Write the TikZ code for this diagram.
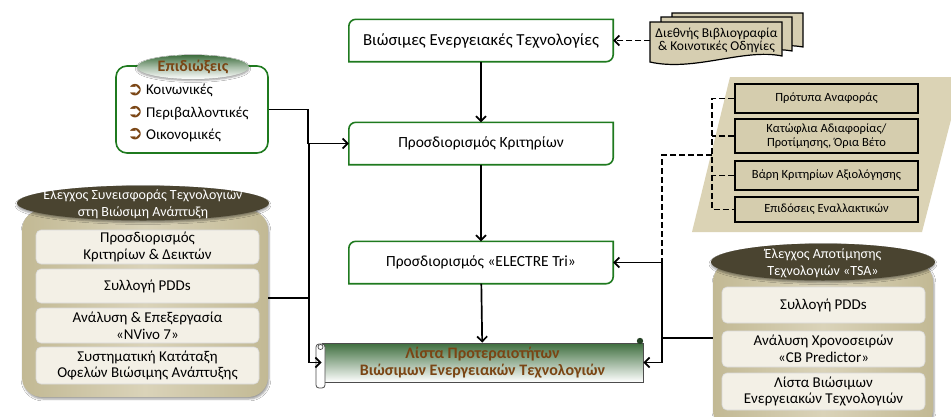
\documentclass[tikz,border=0pt]{standalone}
\usepackage{fontspec}
\setmainfont{Carlito}
\newfontfamily\symfont{DejaVu Sans}
\usetikzlibrary{shapes.geometric,arrows.meta,shadows.blur}

\definecolor{boxgreen}{HTML}{1F7A1F}
\definecolor{hdrgreen}{HTML}{3E6E3E}
\definecolor{browntxt}{HTML}{7A4514}
\definecolor{olive}{HTML}{4A4430}
\definecolor{tanD}{HTML}{C2B994}
\definecolor{tanL}{HTML}{DAD3B9}
\definecolor{cream}{HTML}{F3F0E6}
\definecolor{paratan}{HTML}{DBD3B5}
\definecolor{innertan}{HTML}{D5CDAE}
\definecolor{doctan}{HTML}{D6CEB1}

\tikzset{
  conn/.style={line width=1.7pt, black},
  arr/.style={conn, -{Straight Barb[length=5pt,width=10pt]}},
  dashconn/.style={line width=1.7pt, black, dash pattern=on 6pt off 3pt},
  procbox/.style={minimum width=264pt, minimum height=42pt, inner sep=0pt,
    font=\fontsize{15.5}{17}\selectfont},
  procline/.style={draw=boxgreen, line width=1.6pt},
  container/.style={rounded corners=20pt, left color=tanD, right color=tanD,
    middle color=tanL, blur shadow={shadow xshift=1pt, shadow yshift=-2pt}},
  hdrell/.style={ellipse, fill=olive, inner sep=0pt,
    blur shadow={shadow xshift=0pt, shadow yshift=-2pt}},
  hdrtxt/.style={align=center, text=white, yshift=-1.5pt, font=\fontsize{14}{16.7}\selectfont},
  itembox/.style={fill=cream, draw=black!15, line width=0.6pt, rounded corners=5pt,
    inner sep=0pt, align=center, font=\fontsize{15}{16.7}\selectfont},
  parabox/.style={fill=innertan, draw=black, line width=1.2pt, minimum width=183pt,
    inner sep=0pt, align=center, font=\fontsize{12.5}{13.3}\selectfont},
  docshape/.style={fill=doctan, draw=black, line width=1.2pt},
  epiditem/.style={anchor=west, inner sep=0pt, font=\fontsize{15}{16}\selectfont},
}

\newcommand{\bul}{\raisebox{-0.5pt}{\symfont\bfseries\fontsize{19}{14}\selectfont\color{browntxt}➲}\hspace{3pt}}

\begin{document}
\begin{tikzpicture}[x=1pt, y=-1pt]
\useasboundingbox[fill=white] (0,0) rectangle (951,416);

% ---------- backdrop for the ELECTRE Tri parameters ----------
\fill[paratan] (730,77) -- (962,77) -- (922,232) -- (692,232) -- cycle;

% ---------- central process chain ----------
\node[procbox, font=\fontsize{16.8}{17}\selectfont] (b1) at (481,40.5) {Βιώσιμες Ενεργειακές Τεχνολογίες};
\node[procbox] (b2) at (481,143.5) {Προσδιορισμός Κριτηρίων};
\node[procbox] (b3) at (481,262.5) {Προσδιορισμός «ELECTRE Tri»};
\foreach \n in {b1,b2,b3}
  \draw[procline] (\n.west) [rounded corners=7pt] |- (\n.north) [sharp corners] -| (\n.east)
    [rounded corners=7pt] |- (\n.south) [sharp corners] -| (\n.west);

% ---------- result scroll ----------
\node[minimum width=321pt, minimum height=39pt, inner sep=0pt,
      top color=hdrgreen, bottom color=white, draw=black!70, line width=0.8pt,
      align=center, text=browntxt, font=\bfseries\fontsize{16}{16.7}\selectfont]
      (list) at (482.5,362.5) {Λίστα Προτεραιοτήτων\\Βιώσιμων Ενεργειακών Τεχνολογιών};
\draw[fill=white, draw=black!70, line width=0.8pt, rounded corners=3pt] (316,344) rectangle (325,388);
\draw[black!70, line width=0.7pt] (320.5,347) circle (2.5pt);
\fill[hdrgreen!60!black] (640,341) circle (3.2pt);

% ---------- objectives ----------
\node[draw=boxgreen, line width=1.6pt, rounded corners=11pt, minimum width=152pt,
      minimum height=87pt] (epid) at (192,109.5) {};
\node[ellipse, minimum width=112pt, minimum height=24pt, inner sep=0pt,
      top color=hdrgreen, bottom color=white, middle color=hdrgreen!45,
      blur shadow={shadow xshift=0pt, shadow yshift=-1.5pt}] (epidh) at (193,67) {};
\node[text=browntxt, font=\bfseries\fontsize{16}{17}\selectfont] (epidt) at (epidh) {Επιδιώξεις};
\node[epiditem] (e1) at (127,90.5) {\bul Κοινωνικές};
\node[epiditem] (e2) at (127,113) {\bul Περιβαλλοντικές};
\node[epiditem] (e3) at (127,135) {\bul Οικονομικές};

% ---------- sustainable development contribution check ----------
\node[container, minimum width=246pt, minimum height=187pt] (lc) at (145,303.5) {};
\node[hdrell, minimum width=252pt, minimum height=35pt] (lch) at (143,203) {};
\node[hdrtxt] (lct) at (lch) {Έλεγχος Συνεισφοράς Τεχνολογιών\\στη Βιώσιμη Ανάπτυξη};
\node[itembox, minimum width=223pt, minimum height=34pt] (l1) at (147.5,247) {Προσδιορισμός\\Κριτηρίων \& Δεικτών};
\node[itembox, minimum width=223pt, minimum height=34pt] (l2) at (147.5,286) {Συλλογή PDDs};
\node[itembox, minimum width=223pt, minimum height=35pt] (l3) at (147.5,325.5) {Ανάλυση \& Επεξεργασία\\«NVivo 7»};
\node[itembox, minimum width=223pt, minimum height=37pt] (l4) at (147.5,365.5) {Συστηματική Κατάταξη\\Οφελών Βιώσιμης Ανάπτυξης};

% ---------- TSA check ----------
\node[container, minimum width=220pt, minimum height=168pt] (rc) at (823,346) {};
\node[hdrell, minimum width=224pt, minimum height=37pt] (rch) at (823,262) {};
\node[hdrtxt] (rct) at (rch) {Έλεγχος Αποτίμησης\\Τεχνολογιών «TSA»};
\node[itembox, minimum width=203pt, minimum height=36pt] (r1) at (823.5,305) {Συλλογή PDDs};
\node[itembox, minimum width=203pt, minimum height=36pt] (r2) at (823.5,349) {Ανάλυση Χρονοσειρών\\«CB Predictor»};
\node[itembox, minimum width=203pt, minimum height=37pt] (r3) at (823.5,391.5) {Λίστα Βιώσιμων\\Ενεργειακών Τεχνολογιών};

% ---------- ELECTRE Tri parameters ----------
\node[parabox, minimum height=29pt] (p1) at (826.5,98.5) {Πρότυπα Αναφοράς};
\node[parabox, minimum height=34pt] (p2) at (826.5,136) {Κατώφλια Αδιαφορίας/\\Προτίμησης, Όρια Βέτο};
\node[parabox, minimum height=29pt] (p3) at (826.5,175.5) {Βάρη Κριτηρίων Αξιολόγησης};
\node[parabox, minimum height=25pt] (p4) at (826.5,209.5) {Επιδόσεις Εναλλακτικών};

% ---------- literature stack ----------
\draw[docshape] (672,13) -- (803,13) -- (803,47) .. controls (765,40) and (715,62) .. (672,53) -- cycle;
\draw[docshape] (661,17) -- (792,17) -- (792,51) .. controls (754,44) and (704,66) .. (661,57) -- cycle;
\draw[docshape] (650,22) -- (782,22) -- (782,56) .. controls (744,48) and (694,72) .. (650,62) -- cycle;
\node[minimum width=132pt, minimum height=40pt, inner sep=0pt, align=center,
      font=\fontsize{13.5}{13}\selectfont] (doc) at (716.5,40.5) {Διεθνής Βιβλιογραφία\\\& Κοινοτικές Οδηγίες};

% ---------- junction points ----------
\coordinate (j1) at (308,143.5);
\coordinate (j2) at (309,298);
\coordinate (vx) at (712,155);
\coordinate (j3) at (662,155);
\coordinate (j4) at (662,262.5);
\coordinate (j5) at (662,338);

% ---------- connectors ----------
\draw[arr] (b1) -- (b2);
\draw[arr] (b2) -- (b3);
\draw[arr] (b3) -- (list);
\draw[dashconn, -{Straight Barb[length=5pt,width=10pt]}] (doc.west |- b1.east) -- (b1.east);

\draw[conn] (epid.east) -| (j1);
\draw[arr] (j1) -- (b2.west);
\draw[conn] (lc.east |- j2) -- (j2);
\draw[conn] (j2) -- (j1 -| j2);
\draw[arr] (j2) |- (list.west);

\draw[dashconn] (p1.west) -- (p1.west -| vx) -- (p4.west -| vx) -- (p4.west);
\draw[dashconn] (p2.west) -- (p2.west -| vx);
\draw[dashconn] (p3.west) -- (p3.west -| vx);
\draw[dashconn] (vx) -- (j3) -- (j4);

\draw[conn] (rc.west |- j5) -- (j5);
\draw[conn] (j5) -- (j4);
\draw[arr] (j4) -- (b3.east);
\draw[arr] (j5) |- (list.east);
\end{tikzpicture}
\end{document}
